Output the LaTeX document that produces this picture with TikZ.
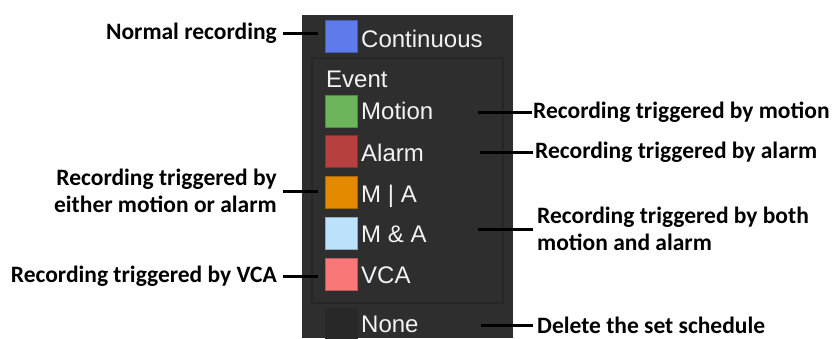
\documentclass[tikz,border=0pt]{standalone}
\usepackage{fontspec}
\setmainfont{Liberation Sans}
\newfontfamily\notefont{Carlito}
\usetikzlibrary{positioning}

\definecolor{panelgray}{HTML}{2E2E2E}
\definecolor{nonegray}{HTML}{282828}
\definecolor{itemwhite}{HTML}{F2F2F2}
\definecolor{cblue}{HTML}{5F7BEA}
\definecolor{cgreen}{HTML}{6DB55A}
\definecolor{cred}{HTML}{B6403F}
\definecolor{corange}{HTML}{E38A00}
\definecolor{clight}{HTML}{BDE3FC}
\definecolor{cpink}{HTML}{F87878}

\begin{document}
\begin{tikzpicture}[x=1pt,y=-1pt,
  swatch/.style={draw=#1!75!black, fill=#1, line width=0.7pt, minimum width=32pt, minimum height=32pt, inner sep=0pt},
  item/.style={anchor=base west, inner sep=0pt, text=itemwhite, font=\fontsize{24}{28}\selectfont},
  note/.style={inner sep=0pt, font=\notefont\bfseries\fontsize{23.5}{27}\selectfont},
  lead/.style={line width=3pt}]
\useasboundingbox (0,0) rectangle (835,338);

% panel
\fill[panelgray] (302,15) rectangle (513,338);
\draw[black!85, line width=1.3pt] (312,58) rectangle (503,303);

% swatches
\node[swatch=cblue] (scont) at (341.5,36.5) {};
\node[swatch=cgreen] (smotion) at (341.5,111) {};
\node[swatch=cred] (salarm) at (341.5,151) {};
\node[swatch=corange] (sor) at (341.5,192.5) {};
\node[swatch=clight] (sand) at (341.5,233.5) {};
\node[swatch=cpink] (svca) at (341.5,274) {};
\node[swatch=nonegray, draw=nonegray, minimum height=30pt] (snone) at (341.5,323) {};

% panel texts
\node[item] (tcont) at (361,47) {Continuous};
\node[item] (tevent) at (326,87) {Event};
\node[item] (tmotion) at (361,119) {Motion};
\node[item] (talarm) at (361,161) {Alarm};
\node[item] (tor) at (361,202) {M | A};
\node[item] (tand) at (361,242) {M \& A};
\node[item] (tvca) at (361,283) {VCA};
\node[item] (tnone) at (361,332) {None};

% notes
\node[note, anchor=east] (nnormal) at (277,33) {Normal recording};
\node[note, anchor=east, align=right] (nor) at (277,191) {Recording triggered by\\either motion or alarm};
\node[note, anchor=east] (nvca) at (277,276) {Recording triggered by VCA};
\node[note, anchor=west] (nmotion) at (533,112) {Recording triggered by motion};
\node[note, anchor=west] (nalarm) at (535,152) {Recording triggered by alarm};
\node[note, anchor=west, align=left] (nboth) at (537,229) {Recording triggered by both\\motion and alarm};
\node[note, anchor=west] (nnone) at (537,325) {Delete the set schedule};

% leader lines
\coordinate (pcont) at (318,33);
\coordinate (por) at (318,191);
\coordinate (pvca) at (318,276);
\coordinate (pmotion) at (478,112);
\coordinate (palarm) at (480,152);
\coordinate (pboth) at (478,229);
\coordinate (pnone) at (481,325);
\draw[lead, shorten <=6pt] (nnormal.east) -- (pcont);
\draw[lead, shorten <=6pt] (nor.east) -- (por);
\draw[lead, shorten <=6pt] (nvca.east) -- (pvca);
\draw[lead, shorten <=1pt] (nmotion.west) -- (pmotion);
\draw[lead, shorten <=2pt] (nalarm.west) -- (palarm);
\draw[lead, shorten <=4pt] (nboth.west) -- (pboth);
\draw[lead, shorten <=4pt] (nnone.west) -- (pnone);
\end{tikzpicture}
\end{document}
